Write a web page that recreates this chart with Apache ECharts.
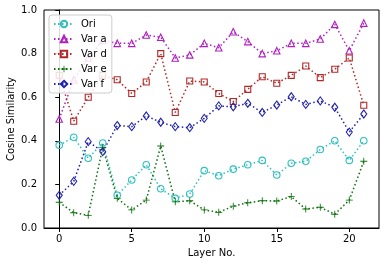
<!DOCTYPE html>
<html><head><meta charset="utf-8">
<script src="https://cdn.jsdelivr.net/npm/echarts@6/dist/echarts.min.js"></script>
<style>html,body{margin:0;padding:0;background:#fff}#c{width:386px;height:266px}</style>
</head><body><div id="c"></div>
<script>
var layers = [0,1,2,3,4,5,6,7,8,9,10,11,12,13,14,15,16,17,18,19,20,21];
var ori  = [0.38,0.416,0.32,0.39,0.15,0.22,0.29,0.18,0.136,0.156,0.263,0.24,0.27,0.29,0.31,0.243,0.297,0.306,0.36,0.40,0.31,0.40];
var varA = [0.50,0.68,0.78,0.86,0.847,0.847,0.885,0.875,0.78,0.794,0.847,0.827,0.90,0.855,0.80,0.813,0.847,0.847,0.867,0.934,0.813,0.94];
var varD = [0.70,0.49,0.60,0.70,0.68,0.617,0.67,0.80,0.53,0.674,0.67,0.617,0.58,0.636,0.694,0.664,0.70,0.743,0.69,0.728,0.78,0.563];
var varE = [0.118,0.07,0.058,0.37,0.136,0.083,0.128,0.376,0.12,0.125,0.083,0.072,0.10,0.116,0.125,0.124,0.144,0.087,0.095,0.063,0.128,0.306];
var varF = [0.15,0.214,0.396,0.35,0.47,0.465,0.514,0.485,0.465,0.46,0.503,0.56,0.556,0.572,0.53,0.564,0.602,0.567,0.583,0.554,0.44,0.523];
var seriesNames = ['Ori','Var a','Var d','Var e','Var f'];
var xTicks = [0,5,10,15,20];
var yTicks = [0,0.2,0.4,0.6,0.8,1.0];

var font = 'DejaVu Sans';
function pairs(arr){ return arr.map(function(v,i){ return [layers[i], v]; }); }
var plus = 'path://M4.4,0h1.2v10h-1.2z M0,4.4h10v1.2h-10z';
var specs = [
  {name: seriesNames[0], data: ori,  color: '#2ebfbf', symbol: 'circle', size: 6.5},
  {name: seriesNames[1], data: varA, color: '#b020c0', symbol: 'triangle', size: 6.5},
  {name: seriesNames[2], data: varD, color: '#b22828', symbol: 'rect', size: 6},
  {name: seriesNames[3], data: varE, color: '#0a700a', symbol: plus, size: 7, filled: true},
  {name: seriesNames[4], data: varF, color: '#2222a8', symbol: 'diamond', size: [6,8]}
];
var series = specs.map(function(s){
  return {
    name: s.name, type: 'line', data: pairs(s.data),
    symbol: s.symbol, symbolSize: s.size, showAllSymbol: true,
    lineStyle: {color: s.color, width: 1.5, type: [1.5, 2.5]},
    itemStyle: s.filled ? {color: s.color, borderWidth: 0} : {color: 'rgba(255,255,255,0)', borderColor: s.color, borderWidth: 1.1},
    emphasis: {disabled: true}, animation: false
  };
});
var chart = echarts.init(document.getElementById('c'), null, {renderer: 'canvas'});
chart.setOption({
  animation: false,
  backgroundColor: '#fff',
  grid: {left: 44, right: 7, top: 10, bottom: 38, containLabel: false, outerBoundsMode: 'none',
         show: true, borderColor: '#000', borderWidth: 1},
  legend: {
    data: seriesNames, orient: 'vertical', left: 49, top: 15,
    itemWidth: 20, itemHeight: 8, itemGap: 5,
    padding: [4, 5, 4, 4],
    backgroundColor: 'rgba(255,255,255,0.85)', borderColor: '#ccc', borderWidth: 1, borderRadius: 3,
    textStyle: {fontFamily: font, fontSize: 10, color: '#000', lineHeight: 10, padding: [0,0,0,2]}
  },
  xAxis: {
    type: 'value', min: -1.05, max: 22.05,
    name: 'Layer No.', nameLocation: 'middle', nameGap: 20, nameMoveOverlap: false,
    nameTextStyle: {fontFamily: font, fontSize: 10, color: '#000'},
    axisLine: {show: true, onZero: false, lineStyle: {color: '#000', width: 1}},
    axisTick: {show: true, inside: false, length: 4, customValues: xTicks, lineStyle: {color: '#000'}},
    axisLabel: {customValues: xTicks, fontFamily: font, fontSize: 10, color: '#000', margin: 6},
    splitLine: {show: false}
  },
  yAxis: {
    type: 'value', min: 0, max: 1,
    name: 'Cosine Similarity', nameLocation: 'middle', nameGap: 28, nameRotate: 90, nameMoveOverlap: false,
    nameTextStyle: {fontFamily: font, fontSize: 10, color: '#000'},
    axisLine: {show: true, lineStyle: {color: '#000', width: 1}},
    axisTick: {show: true, inside: false, length: 4, customValues: yTicks, lineStyle: {color: '#000'}},
    axisLabel: {customValues: yTicks, fontFamily: font, fontSize: 10, color: '#000', margin: 7,
      formatter: function(v){ return v.toFixed(1); }},
    splitLine: {show: false}
  },
  series: series
});
</script></body></html>
